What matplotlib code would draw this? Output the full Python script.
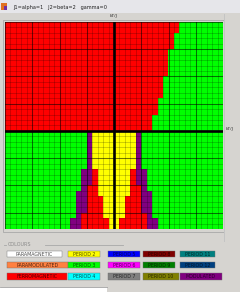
import numpy as np
import matplotlib
matplotlib.use('Agg')
import matplotlib.pyplot as plt
from matplotlib.colors import ListedColormap
from matplotlib.patches import Rectangle

# ---------------- data ----------------
n_cols = 40
# upper half (20 rows): first column that is PERIOD 3 (green); left of it FERROMAGNETIC
top_green_start = [32, 32, 31, 31, 31, 30, 30, 30, 30, 30,
                   29, 29, 29, 29, 28, 28, 28, 27, 27, 27]
# lower half (18 rows): half widths (cells from the centre axis)
bottom_yellow_half = [4, 4, 4, 4, 4, 4, 4, 3, 3, 3, 3, 3, 2, 2, 2, 2, 1, 1]
bottom_red_half    = [4, 4, 4, 4, 4, 4, 4, 4, 4, 4, 5, 5, 5, 5, 5, 6, 6, 6]
bottom_purple_half = [5, 5, 5, 5, 5, 5, 5, 6, 6, 6, 6, 7, 7, 7, 7, 7, 8, 8]

phase_names = ['PARAMAGNETIC', 'PERIOD 2', 'PERIOD 5', 'PERIOD 8', 'PERIOD 11',
               'PARAMODULATED', 'PERIOD 3', 'PERIOD 6', 'PERIOD 9', 'PERIOD 12',
               'FERROMAGNETIC', 'PERIOD 4', 'PERIOD 7', 'PERIOD 10', 'MODULATED']
phase_colors = ['#ffffff', '#ffff00', '#0000ff', '#800000', '#008080',
                '#ff8040', '#00ff00', '#ff00ff', '#008000', '#004080',
                '#ff0000', '#00ffff', '#808080', '#808000', '#800080']

title_text = 'J1=alpha=1   J2=beta=2   gamma=0'
axis_label = 'kT/J'

# ---------------- build grid ----------------
FERRO = phase_names.index('FERROMAGNETIC')
P2 = phase_names.index('PERIOD 2')
P3 = phase_names.index('PERIOD 3')
MOD = phase_names.index('MODULATED')

rows = []
for g in top_green_start:
    row = np.full(n_cols, P3)
    row[:g] = FERRO
    rows.append(row)
centre = n_cols // 2
for yh, rh, ph in zip(bottom_yellow_half, bottom_red_half, bottom_purple_half):
    row = np.full(n_cols, P3)
    row[centre - ph:centre + ph] = MOD
    row[centre - rh:centre + rh] = FERRO
    row[centre - yh:centre + yh] = P2
    rows.append(row)
grid = np.array(rows)
n_rows = grid.shape[0]

# ---------------- figure ----------------
W, H = 240, 292
fig = plt.figure(figsize=(W / 100, H / 100), dpi=100)
fig.patch.set_facecolor('#d6d4d0')

bg = fig.add_axes([0, 0, 1, 1])
bg.set_xlim(0, W)
bg.set_ylim(H, 0)
bg.axis('off')

# title bar
bg.add_patch(Rectangle((0, 0), W, 13, color='#e6e6ea', lw=0))
bg.add_patch(Rectangle((1, 3), 6, 7, color='#e07020', lw=0))
bg.add_patch(Rectangle((4, 6), 3, 4, color='#7030a0', lw=0))
bg.text(13, 7, title_text, fontsize=3.6, color='#202020', va='center', ha='left')
bg.text(114, 16.5, axis_label, fontsize=3.2, color='#303030', va='center', ha='center')
bg.text(226, 129, axis_label, fontsize=3.2, color='#303030', va='center', ha='left')

# plot frame edges
bg.add_patch(Rectangle((3, 20), 221, 212, facecolor='none', edgecolor='#a8a8a8', lw=0.6))
bg.add_patch(Rectangle((223.5, 14), 1, 228, color='#c4c4c4', lw=0))

# legend group box
bg.text(8, 245, 'COLOURS', fontsize=3.5, color='#8a8a8a', va='center', ha='left')
bg.plot([45, 123], [245, 245], color='#a8a8a8', lw=0.6)
bg.plot([4, 6], [245, 245], color='#a8a8a8', lw=0.6)

col_left = [7, 68, 108, 143, 180]
col_width = [[55, 32, 32, 32, 35],
             [61, 32, 32, 32, 35],
             [60, 32, 32, 36, 42]]
row_y = [254, 265, 276.5]
box_h = 6.5
for r in range(3):
    for c in range(5):
        k = r * 5 + c
        x0 = col_left[c]
        w = col_width[r][c]
        bg.add_patch(Rectangle((x0, row_y[r] - box_h / 2), w, box_h,
                               facecolor=phase_colors[k], edgecolor='#707070', lw=0.3))
        bg.text(x0 + w / 2, row_y[r] + 0.2, phase_names[k], fontsize=3.4,
                color='#000000', alpha=0.7, va='center', ha='center')

# window bottom edge
bg.add_patch(Rectangle((0, 287), 107, 5, color='#ffffff', lw=0))
bg.plot([0, 107], [287, 287], color='#a0a0a0', lw=0.6)

# ---------------- phase grid ----------------
ax = fig.add_axes([5 / W, 1 - 229 / H, 218 / W, 207 / H])
cmap = ListedColormap(phase_colors)
ax.imshow(grid, cmap=cmap, vmin=-0.5, vmax=len(phase_colors) - 0.5,
          interpolation='nearest', aspect='auto', extent=(0, n_cols, n_rows, 0))
for i in range(n_cols + 1):
    thick = (i % 5 == 0)
    ax.axvline(i, color='k', lw=0.75 if thick else 0.45, alpha=0.55 if thick else 0.3)
for j in range(n_rows + 1):
    thick = (j % 5 == 0)
    ax.axhline(j, color='k', lw=0.75 if thick else 0.45, alpha=0.55 if thick else 0.3)
ax.axvline(centre, color='k', lw=1.9)
ax.axhline(len(top_green_start), color='k', lw=1.9)
ax.set_xlim(0, n_cols)
ax.set_ylim(n_rows, 0)
ax.axis('off')

fig.savefig('out.png', dpi=100, facecolor=fig.get_facecolor())
